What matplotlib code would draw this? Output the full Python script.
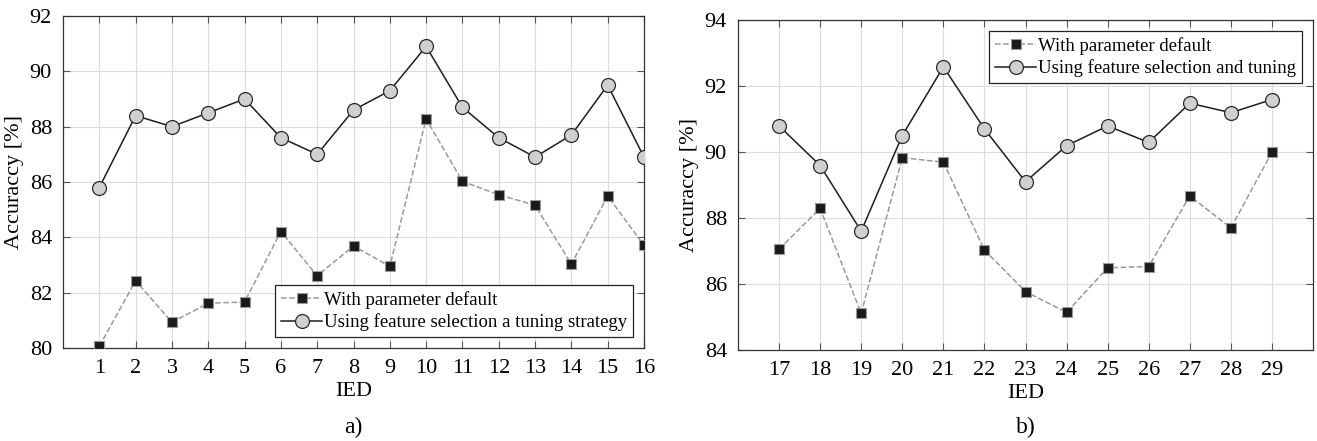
import matplotlib
matplotlib.use('Agg')
import matplotlib.pyplot as plt

plt.rcParams['font.family'] = ['Liberation Serif', 'DejaVu Serif']

# panel a)
ied_a = list(range(1, 17))
default_a = [80.06, 82.43, 80.93, 81.62, 81.66, 84.21, 82.61, 83.69,
             82.95, 88.28, 86.02, 85.54, 85.16, 83.03, 85.49, 83.71]
tuned_a = [85.8, 88.4, 88.0, 88.5, 89.0, 87.6, 87.0, 88.6,
           89.3, 90.9, 88.7, 87.6, 86.9, 87.7, 89.5, 86.9]

# panel b)
ied_b = list(range(17, 30))
default_b = [87.06, 88.29, 85.11, 89.83, 89.69, 87.03, 85.77, 85.14,
             86.49, 86.53, 88.67, 87.70, 89.99]
tuned_b = [90.79, 89.59, 87.6, 90.5, 92.58, 90.7, 89.1, 90.19,
           90.79, 90.29, 91.48, 91.19, 91.59]

fig = plt.figure(figsize=(13.17, 4.41), dpi=100)
W, H = 1317, 441
ax1 = fig.add_axes([63/W, 1-348/H, (644-63)/W, (348-16)/H])
ax2 = fig.add_axes([738/W, 1-350/H, (1313-738)/W, (350-20)/H])


def draw(ax, x, d, t, lab_d, lab_t, ylim, xlim, loc):
    ax.plot(x, d, '--s', color='#9a9a9a', lw=1.1, ms=6.5,
            markerfacecolor='#1a1a1a', markeredgecolor='#9a9a9a',
            markeredgewidth=0.8, label=lab_d, zorder=3)
    ax.plot(x, t, '-o', color='#1e1e1e', lw=1.1, ms=10,
            markerfacecolor='#d0d0d0', markeredgecolor='#2a2a2a',
            markeredgewidth=0.9, label=lab_t, zorder=4)
    ax.set_xlim(*xlim)
    ax.set_ylim(*ylim)
    ax.set_xticks(x)
    ax.set_yticks(range(ylim[0], ylim[1] + 1, 2))
    ax.grid(True, color='#dcdcdc', lw=0.8)
    ax.set_axisbelow(True)
    ax.tick_params(direction='in', labelsize=16, length=5, width=0.8,
                   color='#555555', pad=8, top=True, right=True)
    for s in ax.spines.values():
        s.set_color('#333333')
        s.set_linewidth(0.9)
    ax.set_xlabel('IED', fontsize=16, labelpad=3)
    ax.set_ylabel('Accuraccy [%]', fontsize=16, labelpad=4)
    leg = ax.legend(loc=loc, fontsize=13.5, fancybox=False, framealpha=1,
                    edgecolor='#222222', borderpad=0.3, labelspacing=0.25,
                    handlelength=2.2, handletextpad=0.1, borderaxespad=0.6)
    leg.get_frame().set_linewidth(0.9)


draw(ax1, ied_a, default_a, tuned_a, 'With parameter default',
     'Using feature selection a tuning strategy', (80, 92), (0, 16),
     'lower right')
draw(ax2, ied_b, default_b, tuned_b, 'With parameter default',
     'Using feature selection and tuning', (84, 94), (16, 30),
     'upper right')

fig.text((63 + 644) / 2 / W, 1 - 427/H, 'a)', ha='center', va='center',
         fontsize=17)
fig.text((738 + 1313) / 2 / W, 1 - 427/H, 'b)', ha='center', va='center',
         fontsize=17)

fig.savefig('out.png', dpi=100)
